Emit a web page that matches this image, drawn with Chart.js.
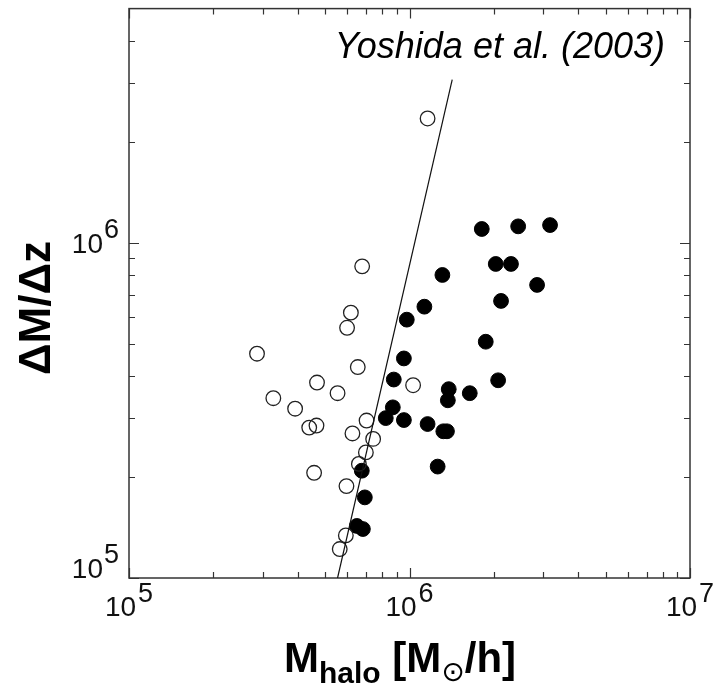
<!DOCTYPE html>
<html>
<head>
<meta charset="utf-8">
<script src="https://cdn.jsdelivr.net/npm/chart.js@4.4.1/dist/chart.umd.min.js"></script>
<style>
  html, body { margin: 0; padding: 0; background: #fff; }
  #wrap { width: 715px; height: 684px; }
</style>
</head>
<body>
<div id="wrap"><canvas id="grafico" width="715" height="684"></canvas></div>
<script>
// Halos com círculos abertos
const abertosX = [2.86e5, 3.27e5, 3.91e5, 4.39e5, 4.66e5, 4.57e5, 4.68e5, 5.54e5, 6.18e5, 5.99e5, 6.54e5,
  6.78e5, 7.03e5, 6.26e5, 7.42e5, 6.99e5, 6.60e5, 5.96e5, 5.93e5, 5.64e5, 1.03e6, 1.16e6];
const abertosY = [4.67e5, 3.44e5, 3.20e5, 2.81e5, 2.85e5, 2.06e5, 3.83e5, 3.56e5, 6.19e5, 5.58e5, 4.26e5,
  8.51e5, 2.95e5, 2.70e5, 2.60e5, 2.37e5, 2.19e5, 1.88e5, 1.34e5, 1.22e5, 3.76e5, 2.35e6];

// Halos com círculos cheios
const cheiosX = [1.81e6, 2.44e6, 3.17e6, 2.03e6, 2.30e6, 2.85e6, 1.31e6, 2.12e6, 1.13e6, 9.78e5, 1.87e6,
  9.55e5, 8.79e5, 2.07e6, 1.38e6, 1.37e6, 1.64e6, 8.72e5, 8.23e5, 9.55e5, 1.16e6, 1.32e6, 1.36e6, 1.26e6,
  6.76e5, 6.93e5, 6.49e5, 6.82e5];
const cheiosY = [1.10e6, 1.12e6, 1.13e6, 8.65e5, 8.65e5, 7.49e5, 8.02e5, 6.71e5, 6.45e5, 5.90e5, 5.07e5,
  4.52e5, 3.91e5, 3.89e5, 3.66e5, 3.39e5, 3.56e5, 3.23e5, 3.00e5, 2.96e5, 2.88e5, 2.74e5, 2.74e5, 2.15e5,
  2.09e5, 1.74e5, 1.43e5, 1.40e5];

// Linha de Yoshida et al. (2003)
const linhaX = [5.54e5, 1.42e6];
const linhaY = [1.0e5, 3.07e6];

// Marcas dos eixos
const principaisX = [1e5, 1e6, 1e7];
const principaisY = [1e5, 1e6];
const menoresX = [2e5, 3e5, 4e5, 5e5, 6e5, 7e5, 8e5, 9e5, 2e6, 3e6, 4e6, 5e6, 6e6, 7e6, 8e6, 9e6];
const menoresY = [2e5, 3e5, 4e5, 5e5, 6e5, 7e5, 8e5, 9e5, 2e6, 3e6, 4e6];

const FONTE = '"Liberation Sans", Arial, sans-serif';

function juntar(xs, ys) {
  return xs.map((x, i) => ({ x: x, y: ys[i] }));
}

// Desenha moldura, marcas internas e textos
const molduraPlugin = {
  id: 'moldura',
  beforeDatasetsDraw(chart) {
    const { ctx, chartArea: a, scales: { x, y } } = chart;
    ctx.save();
    ctx.strokeStyle = '#333';
    ctx.lineWidth = 1.5;
    ctx.strokeRect(a.left, a.top, a.right - a.left, a.bottom - a.top);

    ctx.lineWidth = 1.2;
    ctx.beginPath();
    const marcaX = (v, tam) => {
      const px = Math.round(x.getPixelForValue(v)) + 0.5;
      ctx.moveTo(px, a.bottom); ctx.lineTo(px, a.bottom - tam);
      ctx.moveTo(px, a.top); ctx.lineTo(px, a.top + tam);
    };
    const marcaY = (v, tam) => {
      const py = Math.round(y.getPixelForValue(v)) + 0.5;
      ctx.moveTo(a.left, py); ctx.lineTo(a.left + tam, py);
      ctx.moveTo(a.right, py); ctx.lineTo(a.right - tam, py);
    };
    principaisX.forEach(v => marcaX(v, 10));
    menoresX.forEach(v => marcaX(v, 6));
    principaisY.forEach(v => marcaY(v, 10));
    menoresY.forEach(v => marcaY(v, 6));
    ctx.stroke();
    ctx.restore();
  },
  afterDraw(chart) {
    const { ctx, chartArea: a, scales: { x, y } } = chart;
    ctx.save();
    ctx.fillStyle = '#111';

    // rótulos 10^n
    const base = '28px ' + FONTE;
    const expo = '27px ' + FONTE;
    const potencia = v => String(Math.round(Math.log10(v)));

    principaisX.forEach(v => {
      ctx.font = base;
      const w1 = ctx.measureText('10').width;
      ctx.font = expo;
      const w2 = ctx.measureText(potencia(v)).width;
      const total = w1 + 2 + w2;
      const px = x.getPixelForValue(v) - total / 2;
      ctx.textAlign = 'left';
      ctx.textBaseline = 'alphabetic';
      ctx.font = base;
      ctx.fillText('10', px, a.bottom + 38);
      ctx.font = expo;
      ctx.fillText(potencia(v), px + w1 + 2, a.bottom + 24);
    });

    principaisY.forEach((v, i) => {
      const py = y.getPixelForValue(v) + (i === 0 ? 0 : 10);
      ctx.font = expo;
      const w2 = ctx.measureText(potencia(v)).width;
      ctx.textAlign = 'right';
      ctx.textBaseline = 'alphabetic';
      ctx.fillText(potencia(v), a.left - 10, py - 15);
      ctx.font = base;
      ctx.fillText('10', a.left - 10 - w2 - 1, py);
    });

    // título do eixo y
    ctx.save();
    ctx.translate(50, 308);
    ctx.rotate(-Math.PI / 2);
    ctx.font = 'bold 44px ' + FONTE;
    ctx.textAlign = 'center';
    ctx.textBaseline = 'alphabetic';
    ctx.fillStyle = '#000';
    ctx.fillText('ΔM/Δz', 0, 0);
    ctx.restore();

    // título do eixo x com subscrito
    ctx.fillStyle = '#000';
    ctx.textAlign = 'left';
    ctx.textBaseline = 'alphabetic';
    const grande = 'bold 42px ' + FONTE;
    const pequeno = 'bold 30px ' + FONTE;
    const partes = [
      ['M', grande, 0], ['halo', pequeno, 11], [' [M', grande, 0],
      ['⊙', '28px "DejaVu Sans", sans-serif', 9], ['/h]', grande, 0]
    ];
    let largura = 0;
    partes.forEach(p => { ctx.font = p[1]; largura += ctx.measureText(p[0]).width; });
    let cx = 400 - largura / 2;
    partes.forEach(p => {
      ctx.font = p[1];
      ctx.fillText(p[0], cx, 672 + p[2]);
      cx += ctx.measureText(p[0]).width;
    });

    // anotação
    ctx.font = 'italic 36px ' + FONTE;
    ctx.textAlign = 'right';
    ctx.fillStyle = '#000';
    ctx.fillText('Yoshida et al. (2003)', 665, 58);
    ctx.restore();
  }
};

new Chart(document.getElementById('grafico'), {
  type: 'scatter',
  data: {
    datasets: [
      {
        label: 'Yoshida et al. (2003)',
        data: juntar(linhaX, linhaY),
        showLine: true,
        borderColor: '#111',
        borderWidth: 1.2,
        pointRadius: 0,
        fill: false
      },
      {
        label: 'abertos',
        data: juntar(abertosX, abertosY),
        pointRadius: 7.3,
        borderWidth: 1.3,
        borderColor: '#222',
        backgroundColor: 'rgba(0,0,0,0)'
      },
      {
        label: 'cheios',
        data: juntar(cheiosX, cheiosY),
        pointRadius: 7.4,
        borderWidth: 1,
        borderColor: '#000',
        backgroundColor: '#000'
      }
    ]
  },
  options: {
    responsive: false,
    animation: false,
    layout: { padding: { left: 129, right: 25, top: 4, bottom: 106 } },
    plugins: { legend: { display: false }, tooltip: { enabled: false } },
    scales: {
      x: { type: 'logarithmic', min: 1e5, max: 1e7, display: false },
      y: { type: 'logarithmic', min: 1e5, max: 5e6, display: false }
    }
  },
  plugins: [molduraPlugin]
});
</script>
</body>
</html>
